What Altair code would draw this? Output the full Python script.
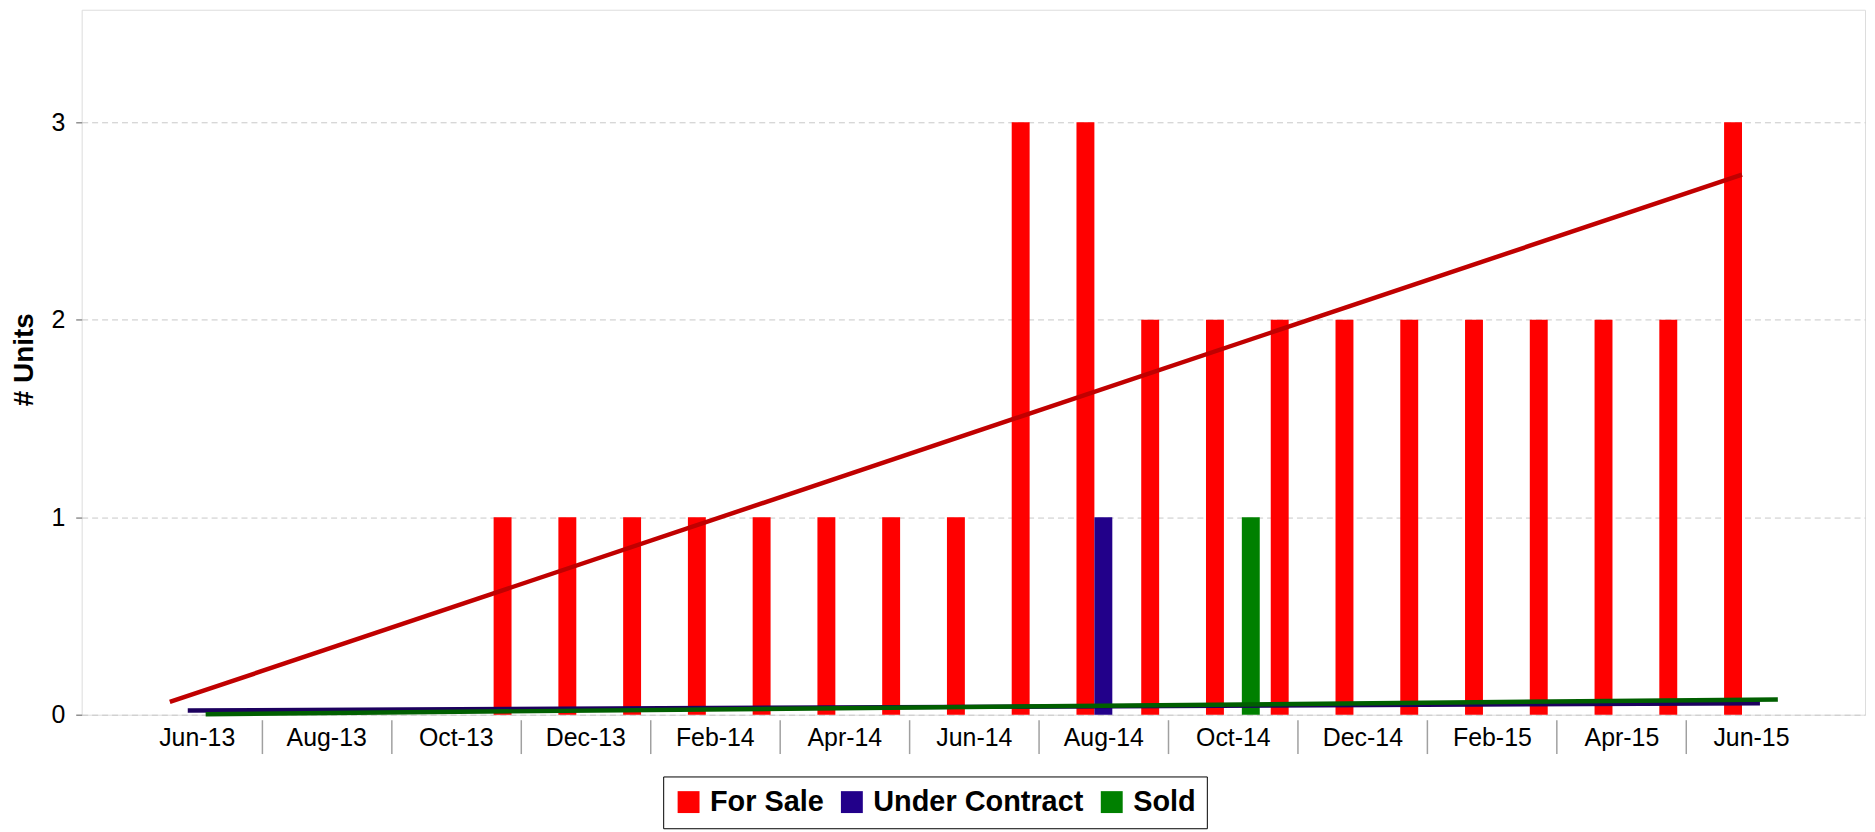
import json
import altair as alt
import pandas as pd

months = ["Jun-13", "Jul-13", "Aug-13", "Sep-13", "Oct-13", "Nov-13", "Dec-13",
          "Jan-14", "Feb-14", "Mar-14", "Apr-14", "May-14", "Jun-14", "Jul-14",
          "Aug-14", "Sep-14", "Oct-14", "Nov-14", "Dec-14", "Jan-15", "Feb-15",
          "Mar-15", "Apr-15", "May-15", "Jun-15"]
for_sale = [0, 0, 0, 0, 0, 1, 1, 1, 1, 1, 1, 1, 1, 3, 3, 2, 2, 2, 2, 2, 2, 2, 2, 2, 3]
under_contract = [0, 0, 0, 0, 0, 0, 0, 0, 0, 0, 0, 0, 0, 0, 1, 0, 0, 0, 0, 0, 0, 0, 0, 0, 0]
sold = [0, 0, 0, 0, 0, 0, 0, 0, 0, 0, 0, 0, 0, 0, 0, 0, 1, 0, 0, 0, 0, 0, 0, 0, 0]
series = ["For Sale", "Under Contract", "Sold"]
y_ticks = [0, 1, 2, 3]

bar_colors = ["#ff0000", "#22008a", "#008000"]
trend_colors = ["#c00000", "#1c005e", "#005f00"]

rows = []
for s, vals in zip(series, [for_sale, under_contract, sold]):
    for i, (m, v) in enumerate(zip(months, vals)):
        rows.append({"i": i, "month": m, "series": s, "v": v})
df = pd.DataFrame(rows)

BW = 18 / 65.04  # bar width in month units
off_expr = (f"datum.series == 'For Sale' ? {-BW} : "
            f"(datum.series == 'Sold' ? {BW} : 0)")

FONT = "Liberation Sans"

x_scale = alt.Scale(domain=[-1.776, 25.761], nice=False, zero=False)
y_scale = alt.Scale(domain=[0, 3.57], nice=False, zero=True)

label_expr = ("datum.value % 2 == 0 ? " + json.dumps(months) +
              "[datum.value] : ''")

x_axis = alt.Axis(
    values=list(range(len(months))),
    labelExpr=label_expr,
    title=None,
    grid=False,
    domain=False,
    offset=5,
    tickSize=34,
    tickColor="#a0a0a0",
    tickWidth=1.5,
    tickOpacity={"condition": {"test": "datum.value % 2 == 1", "value": 1}, "value": 0},
    labelPadding=-28,
    labelFontSize=25,
    labelFont=FONT,
    labelColor="#000000",
    labelOverlap=False,
    labelFlush=False,
)

y_axis = alt.Axis(
    values=y_ticks,
    title="# Units",
    titleFont=FONT,
    titleFontSize=28,
    titleFontWeight="bold",
    titleColor="#000000",
    titleAngle=270,
    titleBaseline="middle",
    titleX=-57,
    titleY=351,
    domain=False,
    tickSize=6,
    tickColor="#909090",
    tickWidth=1.5,
    labelPadding=11,
    labelFontSize=25,
    labelFont=FONT,
    labelColor="#000000",
    grid=True,
    gridDash=[6, 4],
    gridColor="#c8c8c8",
    gridWidth=1,
)

base = alt.Chart(df)

bars = base.transform_calculate(
    xc=f"datum.i + ({off_expr})",
).transform_calculate(
    x0=f"datum.xc - {BW / 2}",
    x1=f"datum.xc + {BW / 2}",
    zero="0",
).mark_rect().encode(
    x=alt.X("x0:Q", scale=x_scale, axis=x_axis),
    x2="x1:Q",
    y=alt.Y("v:Q", scale=y_scale, axis=y_axis),
    y2="zero:Q",
    color=alt.Color(
        "series:N",
        scale=alt.Scale(domain=series, range=bar_colors),
        legend=alt.Legend(
            title=None,
            orient="none",
            legendX=584,
            legendY=770,
            direction="horizontal",
            symbolType="square",
            symbolSize=484,
            symbolStrokeWidth=0,
            labelFont=FONT,
            labelFontSize=29,
            labelFontWeight="bold",
            labelColor="#000000",
            labelLimit=600,
            labelOffset=7,
            columnPadding=13,
            padding=11,
            strokeColor="#000000",
        ),
    ),
)

lines = base.transform_regression(
    "i", "v", groupby=["series"], extent=[-BW / 2, len(months) - 1 + BW / 2]
).transform_calculate(
    xs=f"datum.i + ({off_expr})",
).mark_line(strokeWidth=4.5, strokeCap="butt").encode(
    x=alt.X("xs:Q", scale=x_scale, axis=x_axis),
    y=alt.Y("v:Q", scale=y_scale, axis=y_axis),
    stroke=alt.Stroke("series:N",
                      scale=alt.Scale(domain=series, range=trend_colors),
                      legend=None),
)

chart = alt.layer(bars, lines).properties(
    width=1791,
    height=708,
    autosize=alt.AutoSizeParams(type="none"),
    padding={"left": 74, "top": 0, "right": 2, "bottom": 116},
).configure_view(
    stroke="#a0a0a0",
    strokeWidth=2,
).configure_legend(
    strokeWidth=2.5,
).configure(
    font=FONT,
    background="#ffffff",
)

chart.save("out.html", embed_options={"renderer": "svg", "actions": False})
